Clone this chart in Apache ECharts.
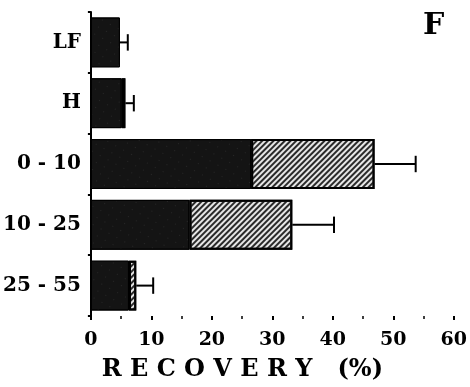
<!DOCTYPE html>
<html>
<head>
<meta charset="utf-8">
<script src="https://cdn.jsdelivr.net/npm/echarts@6/dist/echarts.min.js"></script>
<style>
html, body { margin: 0; padding: 0; background: #fff; }
#chart { width: 470px; height: 387px; }
</style>
</head>
<body>
<div id="chart"></div>
<script>
// categories, top to bottom
var categories = ['LF', 'H', '0 - 10', '10 - 25', '25 - 55']
// recovery (%), dark part and hatched part of each bar
var darkPart = [4.8, 5.1, 26.5, 16.3, 6.3]
var hatchPart = [0, 0.6, 20.4, 17.0, 1.2]
// right end of the error bar
var errorEnd = [6.1, 7.1, 53.7, 40.2, 10.3]
var xTicks = [0, 10, 20, 30, 40, 50, 60]

var serif = 'DejaVu Serif'

var errData = []
categories.forEach(function (c, i) {
  errData.push([darkPart[i] + hatchPart[i], errorEnd[i], i])
})

function renderError(params, api) {
  var idx = api.value(2)
  var p0 = api.coord([api.value(0), idx])
  var p1 = api.coord([api.value(1), idx])
  var h = api.size([0, 1])[1] * 0.27
  var st = { stroke: '#000', lineWidth: 2 }
  return {
    type: 'group',
    children: [
      { type: 'line', shape: { x1: p0[0], y1: p0[1], x2: p1[0], y2: p1[1] }, style: st },
      { type: 'line', shape: { x1: p1[0], y1: p1[1] - h / 2, x2: p1[0], y2: p1[1] + h / 2 }, style: st }
    ]
  }
}

var myChart = echarts.init(document.getElementById('chart'))
myChart.setOption({
  animation: false,
  title: {
    text: 'F',
    left: 418,
    top: 6,
    textStyle: { fontFamily: serif, fontWeight: 'bold', fontSize: 30, color: '#000' }
  },
  grid: { left: 90, right: 15, top: 12, bottom: 69 },
  xAxis: {
    type: 'value',
    min: 0,
    max: 60,
    interval: 10,
    name: 'R E C O V E R Y   (%)',
    nameLocation: 'middle',
    nameGap: 42,
    nameTextStyle: { fontFamily: serif, fontWeight: 'bold', fontSize: 24, color: '#000', padding: [0, 60, 0, 0] },
    axisLine: { lineStyle: { color: '#000', width: 2 } },
    axisTick: { show: true, length: 4, lineStyle: { color: '#000', width: 2 } },
    minorTick: { show: true, splitNumber: 2, length: 3, lineStyle: { color: '#000', width: 1.5 } },
    splitLine: { show: false },
    axisLabel: {
      margin: 15,
      fontFamily: serif,
      fontWeight: 'bold',
      fontSize: 19,
      color: '#000',
      formatter: function (v) { return xTicks.indexOf(v) >= 0 ? v : '' }
    }
  },
  yAxis: {
    type: 'category',
    inverse: true,
    data: categories,
    axisLine: { lineStyle: { color: '#000', width: 2 } },
    axisTick: { show: true, length: 3, lineStyle: { color: '#000', width: 2 } },
    axisLabel: { margin: 10, fontFamily: serif, fontWeight: 'bold', fontSize: 20, color: '#000' }
  },
  series: [
    {
      name: 'dark',
      type: 'bar',
      stack: 'r',
      barCategoryGap: '18%',
      data: darkPart,
      itemStyle: {
        color: '#141414',
        borderColor: '#000',
        borderWidth: 1,
        decal: {
          symbol: 'circle',
          symbolSize: 0.6,
          color: '#6a6a6a',
          dashArrayX: [1, 8],
          dashArrayY: [1, 7],
          rotation: 0.5
        }
      }
    },
    {
      name: 'hatch',
      type: 'bar',
      stack: 'r',
      data: hatchPart.map(function (v) { return v > 0 ? v : null }),
      itemStyle: {
        color: '#e6e6e6',
        borderColor: '#000',
        borderWidth: 2,
        decal: {
          symbol: 'rect',
          symbolSize: 1,
          color: '#2a2a2a',
          dashArrayX: [1, 0],
          dashArrayY: [1.5, 2],
          rotation: -Math.PI / 4
        }
      }
    },
    {
      name: 'error',
      type: 'custom',
      renderItem: renderError,
      encode: { x: [0, 1], y: 2 },
      data: errData,
      z: 3
    }
  ]
})
</script>
</body>
</html>
